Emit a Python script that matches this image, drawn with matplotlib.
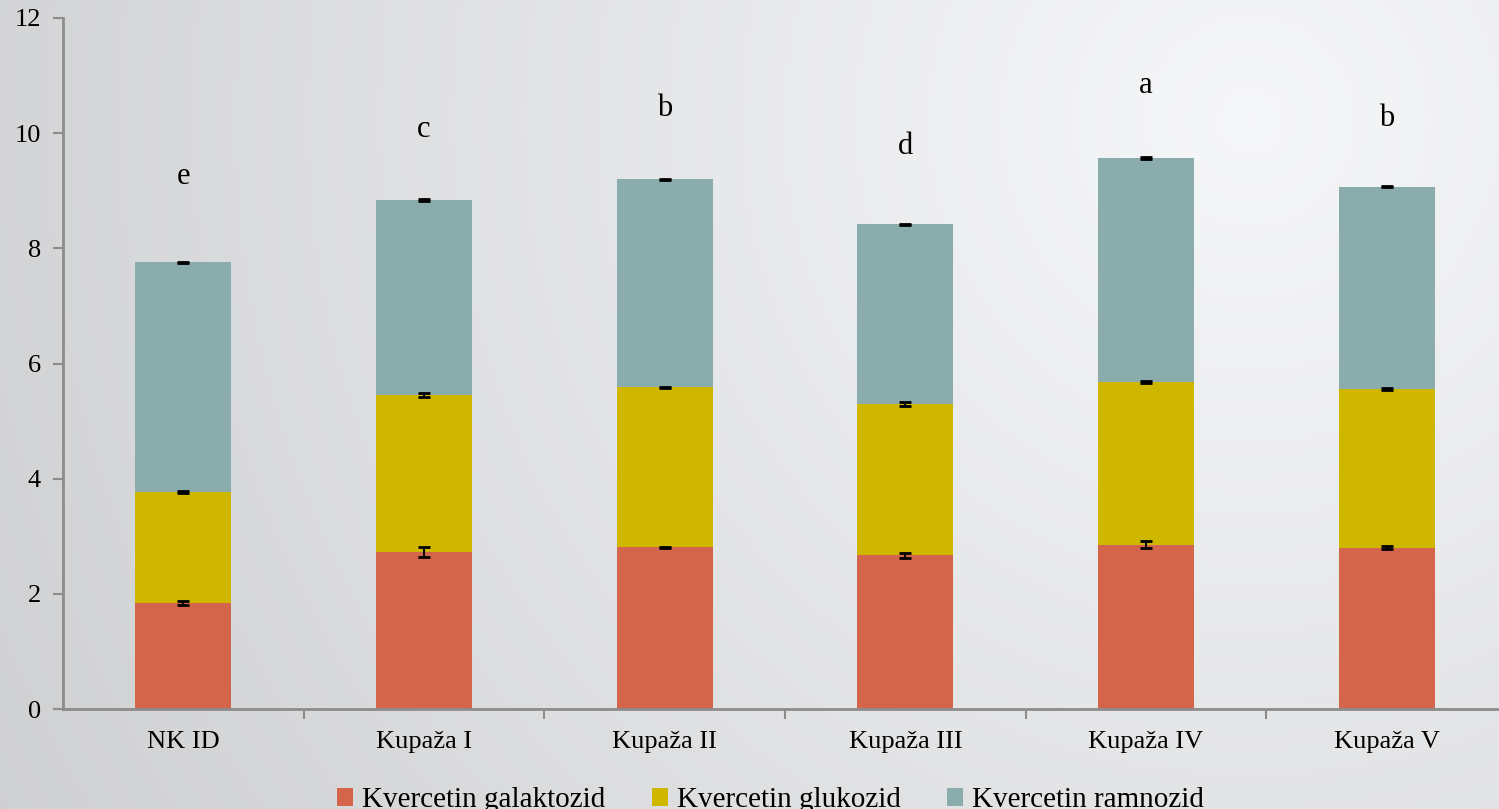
import numpy as np
import matplotlib.pyplot as plt

plt.rcParams['font.family'] = ['Liberation Serif', 'DejaVu Serif']

# data: quercetin glycosides per sample (stacked)
categories = ['NK ID', 'Kupaža I', 'Kupaža II', 'Kupaža III', 'Kupaža IV', 'Kupaža V']
galaktozid = [1.84, 2.73, 2.81, 2.67, 2.85, 2.80]
glukozid = [1.93, 2.72, 2.78, 2.63, 2.83, 2.76]
ramnozid = [3.99, 3.39, 3.61, 3.12, 3.89, 3.51]
err_galaktozid = [0.04, 0.09, 0.01, 0.04, 0.06, 0.03]
err_glukozid = [0.02, 0.04, 0.01, 0.03, 0.01, 0.02]
err_ramnozid = [0.01, 0.01, 0.01, 0.01, 0.01, 0.01]
letters = ['e', 'c', 'b', 'd', 'a', 'b']
letter_y = [9.24, 10.06, 10.42, 9.76, 10.82, 10.25]

col_gal = '#D4654C'
col_glu = '#CFB700'
col_ram = '#8BACAD'

fig = plt.figure(figsize=(14.99, 8.09), dpi=100)

# soft radial background
bg = fig.add_axes([0, 0, 1, 1], zorder=-10)
yy, xx = np.mgrid[0:809, 0:1499]
r = np.sqrt((xx - 1250.0) ** 2 + (yy - 120.0) ** 2) / 1400.0
shade = np.clip(0.965 - 0.15 * r, 0, 1)
bg.imshow(np.dstack([shade, shade + 0.003, shade + 0.008]).clip(0, 1), aspect='auto')
bg.axis('off')

ax = fig.add_axes([63 / 1499, 1 - 709 / 809, 1444 / 1499, (709 - 18) / 809])
ax.patch.set_alpha(0)

x = np.arange(len(categories))
w = 0.4
bottom2 = np.array(galaktozid) + np.array(glukozid)
ekw = dict(ecolor='black', elinewidth=1.5, capsize=4.5, capthick=2)
ax.bar(x, galaktozid, w, color=col_gal, label='Kvercetin galaktozid')
ax.bar(x, glukozid, w, bottom=galaktozid, color=col_glu, label='Kvercetin glukozid')
ax.bar(x, ramnozid, w, bottom=bottom2, color=col_ram, label='Kvercetin ramnozid')
ax.errorbar(x, galaktozid, yerr=err_galaktozid, fmt='none', **ekw)
ax.errorbar(x, bottom2, yerr=err_glukozid, fmt='none', **ekw)
ax.errorbar(x, bottom2 + np.array(ramnozid), yerr=err_ramnozid, fmt='none', **ekw)

for xi, t, ty in zip(x, letters, letter_y):
    ax.text(xi, ty, t, ha='center', va='center', fontsize=22)

ax.set_xlim(-0.5, len(categories) - 0.5)
ax.set_ylim(0, 12)
ax.set_yticks(range(0, 13, 2))
ax.set_xticks(x)
ax.set_xticklabels(categories, fontsize=19)
ax.set_xticks(np.arange(0.5, len(categories) - 0.5, 1), minor=True)
ax.tick_params(axis='x', which='major', length=0, pad=16)
ax.tick_params(axis='x', which='minor', length=7, width=1.5, color='#8c8c8c', direction='out')
ax.tick_params(axis='y', length=7, width=1.5, color='#8c8c8c', labelsize=19, pad=9)
for s in ['top', 'right']:
    ax.spines[s].set_visible(False)
for s in ['left', 'bottom']:
    ax.spines[s].set_color('#8c8c8c')
    ax.spines[s].set_linewidth(2)

fig.legend(loc='lower center', bbox_to_anchor=(0.514, -0.038), ncol=3, frameon=False,
           fontsize=21, handlelength=0.55, handleheight=0.6, handletextpad=0.3,
           columnspacing=1.6)

fig.savefig('out.png', dpi=100)
